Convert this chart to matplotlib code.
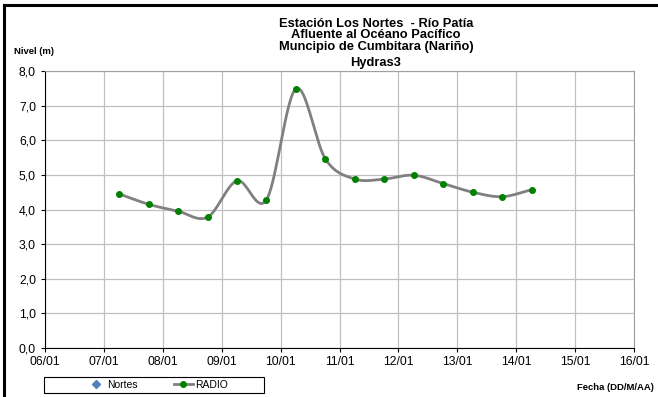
import numpy as np
import pandas as pd
import matplotlib
matplotlib.use("Agg")
import matplotlib.pyplot as plt
import matplotlib.dates as mdates
from matplotlib.lines import Line2D
from matplotlib.patches import Rectangle

plt.rcParams['font.family'] = ['Liberation Sans', 'DejaVu Sans']

# data
fechas = ["2013-01-07 06:15", "2013-01-07 18:15", "2013-01-08 06:15", "2013-01-08 18:15",
          "2013-01-09 06:15", "2013-01-09 18:15", "2013-01-10 06:15", "2013-01-10 18:15",
          "2013-01-11 06:15", "2013-01-11 18:15", "2013-01-12 06:15", "2013-01-12 18:15",
          "2013-01-13 06:15", "2013-01-13 18:15", "2013-01-14 06:15"]
radio = [4.45, 4.15, 3.95, 3.78, 4.83, 4.28, 7.49, 5.46, 4.88, 4.88, 4.99, 4.75, 4.50, 4.37, 4.57]
nortes_x = []
nortes_y = []

titulo = ["Estación Los Nortes  - Río Patía", "Afluente al Océano Pacífico",
          "Muncipio de Cumbitara (Nariño)", "Hydras3"]


def suavizar(x, y, n=20):
    # Catmull-Rom, like Excel's smoothed line
    x = np.asarray(x, float)
    y = np.asarray(y, float)
    px = np.concatenate([[2 * x[0] - x[1]], x, [2 * x[-1] - x[-2]]])
    py = np.concatenate([[2 * y[0] - y[1]], y, [2 * y[-1] - y[-2]]])
    t = np.linspace(0, 1, n)
    xs, ys = [], []
    for i in range(1, len(px) - 2):
        for p, out in ((px, xs), (py, ys)):
            p0, p1, p2, p3 = p[i - 1], p[i], p[i + 1], p[i + 2]
            out.extend(0.5 * ((2 * p1) + (-p0 + p2) * t + (2 * p0 - 5 * p1 + 4 * p2 - p3) * t ** 2
                              + (-p0 + 3 * p1 - 3 * p2 + p3) * t ** 3))
    return np.array(xs), np.array(ys)


x = mdates.date2num(pd.to_datetime(fechas))
xs, ys = suavizar(x, radio)

W, H = 658, 397
fig = plt.figure(figsize=(W / 100, H / 100), dpi=100)
ax = fig.add_axes([45 / W, 1 - 348 / H, (634 - 45) / W, (348 - 71) / H])

ax.plot(nortes_x, nortes_y, linestyle='none', marker='D', color='#4f81bd', markersize=4, label='Nortes')
ax.plot(xs, ys, color='#808080', linewidth=2)
ax.plot(x, radio, linestyle='none', marker='o', color='#008000', markersize=4)
# legend handle for RADIO
ax.plot([], [], color='#808080', linewidth=2, marker='o', markerfacecolor='#008000',
        markeredgecolor='#008000', markersize=4, label='RADIO')

ax.set_xlim(mdates.date2num(pd.Timestamp("2013-01-06")), mdates.date2num(pd.Timestamp("2013-01-16")))
ax.set_ylim(0, 8)
ax.xaxis.set_major_locator(mdates.DayLocator())
ax.xaxis.set_major_formatter(mdates.DateFormatter('%d/%m'))
ax.set_yticks(np.arange(0, 8.1, 1))
ax.set_yticklabels([f"{v:.1f}".replace('.', ',') for v in np.arange(0, 8.1, 1)])
ax.tick_params(labelsize=8.7, length=3, width=0.8, direction='out', colors='black')
ax.tick_params(axis='x', pad=3)
ax.grid(True, color='#c0c0c0', linewidth=0.9)
ax.set_axisbelow(True)
ax.spines['top'].set_color('#a0a0a0')
ax.spines['right'].set_color('#a0a0a0')
ax.spines['left'].set_linewidth(0.8)
ax.spines['bottom'].set_linewidth(0.8)

for linea, base in zip(titulo, [27, 38.5, 50, 66]):
    fig.text(376 / W, 1 - base / H, linea, ha='center', va='baseline', fontsize=9.3, fontweight='bold')
fig.text(14 / W, 1 - 51 / H, "Nivel (m)", ha='left', va='center', fontsize=6.8, fontweight='bold')
fig.text(654 / W, 1 - 388 / H, "Fecha (DD/M/AA)", ha='right', va='center', fontsize=6.8,
         fontweight='bold')

leg = fig.legend(loc='center', bbox_to_anchor=(157 / W, 1 - 385 / H), ncol=2, fontsize=7.5,
                 frameon=False, handlelength=1.9, handletextpad=0.15, columnspacing=3.4,
                 borderpad=0, borderaxespad=0)
fig.add_artist(Rectangle((44 / W, 1 - 393 / H), 220 / W, 16 / H, transform=fig.transFigure,
                         fill=False, edgecolor='black', linewidth=0.8))

# black frame on left and top of the figure
fig.add_artist(Line2D([4 / W, 4 / W], [0, 1 - 5 / H], color='black', linewidth=2.2,
                      transform=fig.transFigure))
fig.add_artist(Line2D([4 / W, 1], [1 - 5 / H, 1 - 5 / H], color='black', linewidth=2.2,
                      transform=fig.transFigure))

fig.savefig("out.png", dpi=100)
